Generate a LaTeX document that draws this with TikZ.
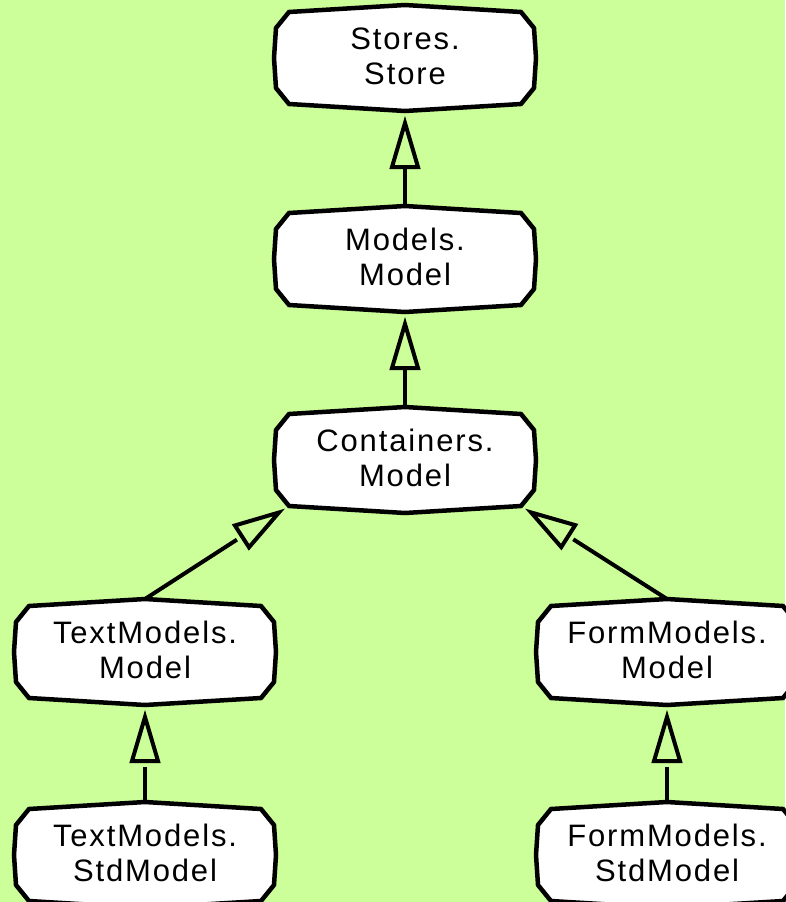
\documentclass[tikz,border=0pt]{standalone}
\usepackage{fontspec}
\setmainfont[LetterSpace=6]{Liberation Sans}
\usetikzlibrary{calc}
\pgfdeclarelayer{boxes}
\pgfsetlayers{boxes,main}
\definecolor{canvas}{RGB}{204,255,153}

\tikzset{
  classname/.style={draw=none, shape=rectangle, inner sep=0pt, align=center,
    font=\fontsize{31}{35}\selectfont},
  boxline/.style={draw=black, fill=white, line width=4.5pt, line join=miter},
  edgeline/.style={draw=black, line width=4pt},
  tipline/.style={draw=black, line width=4pt, line join=miter, miter limit=10},
}

% octagonal class outline with bulging sides around node #1
% (text sits 2pt above the middle of the outline)
\newcommand\classshape[1]{%
  \begin{pgfonlayer}{boxes}
    \draw[boxline]
      ($(#1.center)+(0,-51)$) coordinate (#1-top) -- ($(#1.center)+(116,-44)$)
      -- ($(#1.center)+(129,-28)$) -- ($(#1.center)+(131,2)$) -- ($(#1.center)+(129,32)$)
      -- ($(#1.center)+(116,48)$) coordinate (#1-br) -- ($(#1.center)+(0,55)$) coordinate (#1-bot)
      -- ($(#1.center)+(-116,48)$) coordinate (#1-bl) -- ($(#1.center)+(-129,32)$)
      -- ($(#1.center)+(-131,2)$) -- ($(#1.center)+(-129,-28)$) -- ($(#1.center)+(-116,-44)$)
      -- cycle;
  \end{pgfonlayer}}

% generalisation: open triangle at #2, line from #1 ending #3 pt before #2
\newcommand\inherit[3]{%
  \coordinate (tipT) at ($(#2)!12pt!(#1)$);
  \coordinate (tipB) at ($(#2)!56pt!(#1)$);
  \draw[tipline] (tipT) -- ($(tipB)!13pt!90:(tipT)$) -- ($(tipB)!13pt!-90:(tipT)$) -- cycle;
  \draw[edgeline] (#1) -- ($(#2)!#3pt!(#1)$);}

\begin{document}
\begin{tikzpicture}[x=1pt,y=-1pt]
  \begin{pgfonlayer}{boxes}
    \fill[canvas] (0,0) rectangle (785,902);
  \end{pgfonlayer}
  \useasboundingbox (0,0) rectangle (785,902);

  \node[classname] (ss) at (405,56)  {Stores.\\Store};
  \node[classname] (mm) at (405,257) {Models.\\Model};
  \node[classname] (cm) at (405,458) {Containers.\\Model};
  \node[classname] (tm) at (145,650) {TextModels.\\Model};
  \node[classname] (fm) at (667,650) {FormModels.\\Model};
  \node[classname] (ts) at (145,853) {TextModels.\\StdModel};
  \node[classname] (fs) at (667,853) {FormModels.\\StdModel};

  \classshape{ss}
  \classshape{mm}
  \classshape{cm}
  \classshape{tm}
  \classshape{fm}
  \classshape{ts}
  \classshape{fs}

  \inherit{mm-top}{ss-bot}{56}
  \inherit{cm-top}{mm-bot}{56}
  \inherit{tm-top}{cm-bl}{62}
  \inherit{fm-top}{cm-br}{62}
  \inherit{ts-top}{tm-bot}{62}
  \inherit{fs-top}{fm-bot}{62}
\end{tikzpicture}
\end{document}
